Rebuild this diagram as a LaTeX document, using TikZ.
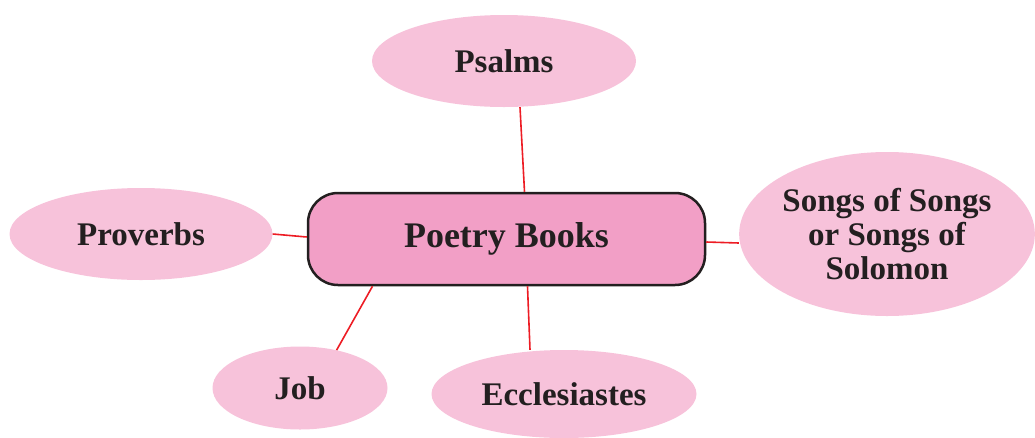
\documentclass[tikz,border=0pt]{standalone}
\usepackage{fontspec}
\setmainfont{Liberation Serif}
\usetikzlibrary{shapes.geometric}
\definecolor{bookpink}{HTML}{F7C2DA}
\definecolor{hubpink}{HTML}{F29FC6}
\definecolor{linkred}{HTML}{ED1C24}
\definecolor{inkdark}{HTML}{231F20}

\begin{document}
\begin{tikzpicture}[x=1pt, y=-1pt,
    book/.style={ellipse, fill=bookpink, inner sep=0pt, text=inkdark, align=center,
                 font=\bfseries\fontsize{33}{34}\selectfont},
    hub/.style={draw=inkdark, line width=2.5pt, rounded corners=30pt, fill=hubpink,
                minimum width=397pt, minimum height=92pt, text=inkdark,
                font=\bfseries\fontsize{36}{40}\selectfont},
    link/.style={draw=linkred, line width=1.6pt}
]
\useasboundingbox (0,0) rectangle (1035,437);

% centre box
\node[hub] (hub) at (506.5,239) {Poetry Books};

% the books round it
\node[book, minimum width=264pt, minimum height=92pt] (psalms) at (504,61) {Psalms};
\node[book, minimum width=263pt, minimum height=92pt] (proverbs) at (141,234) {Proverbs};
\node[book, minimum width=291pt, minimum height=164pt] (songs) at (887,234) {Songs of Songs\\or Songs of\\Solomon};
\node[book, minimum width=175pt, minimum height=83pt] (job) at (300,388) {Job};
\node[book, minimum width=265pt, minimum height=88pt] (eccl) at (564,394) {Ecclesiastes};

% links
\draw[link] ([xshift=16pt]psalms.south) -- ([xshift=18pt]hub.north);
\draw[link] (proverbs.east) -- ([yshift=2pt]hub.west);
\draw[link] ([yshift=-3pt]hub.east) -- ([yshift=-9pt]songs.west);
\draw[link] (job.46) -- ([xshift=-134pt]hub.south);
\draw[link] ([xshift=21pt]hub.south) -- ([xshift=-34pt]eccl.north);

\end{tikzpicture}
\end{document}
